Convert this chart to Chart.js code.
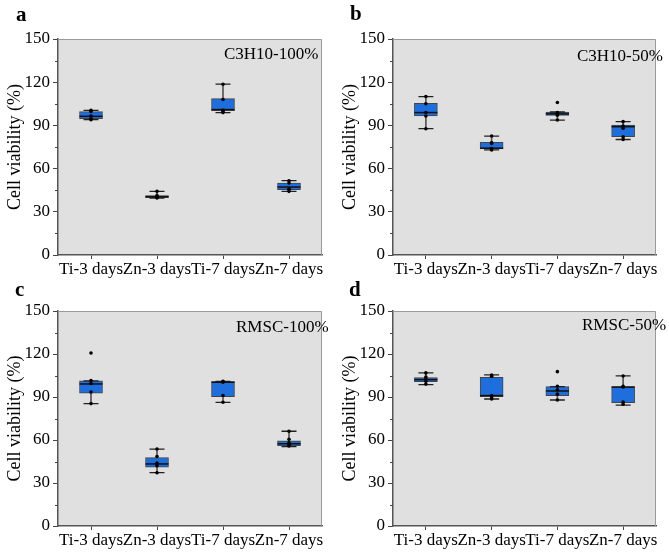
<!DOCTYPE html>
<html>
<head>
<meta charset="utf-8">
<script src="https://cdn.jsdelivr.net/npm/chart.js@4.4.0/dist/chart.umd.min.js"></script>
<style>
body{margin:0;background:#fff;}
#wrap{position:relative;width:669px;height:556px;}
canvas{position:absolute;}
</style>
</head>
<body>
<div id="wrap">
<canvas id="ca" width="335" height="278" style="left:0;top:0"></canvas>
<canvas id="cb" width="334" height="278" style="left:335px;top:0"></canvas>
<canvas id="cc" width="335" height="278" style="left:0;top:278px"></canvas>
<canvas id="cd" width="334" height="278" style="left:335px;top:278px"></canvas>
</div>
<script>
// categories and ticks
const categories = ['Ti-3 days', 'Zn-3 days', 'Ti-7 days', 'Zn-7 days'];
const yTicks = [0, 30, 60, 90, 120, 150];

// a - C3H10-100%
const lowA  = [94.0, 39.6, 98.9, 44.2];
const q1A   = [94.7, 39.8, 100.3, 45.4];
const medA  = [96.3, 40.5, 101.0, 47.2];
const q3A   = [99.6, 41.2, 108.6, 50.0];
const highA = [100.5, 44.2, 118.6, 51.6];
const ptsA  = [[100.5, 99.6, 96.5, 94.5, 94.0], [44.2, 41.2, 40.5, 40.0, 39.6], [118.6, 108.0, 100.5, 99.5, 98.9], [51.6, 50.0, 46.0, 45.4, 44.2]];

// b - C3H10-50%
const lowB  = [87.7, 73.0, 93.7, 80.2];
const q1B   = [96.5, 73.7, 97.0, 82.1];
const medB  = [98.9, 74.2, 98.0, 89.1];
const q3B   = [105.4, 78.2, 99.3, 90.2];
const highB = [110.0, 82.6, 99.3, 92.6];
const ptsB  = [[110.0, 105.0, 99.0, 96.5, 87.7], [82.6, 78.0, 77.5, 74.0, 73.0], [105.9, 99.0, 98.0, 97.0, 93.7], [92.6, 89.5, 88.0, 82.0, 80.2]];

// c - RMSC-100%
const lowC  = [85.4, 37.2, 86.3, 55.4];
const q1C   = [92.6, 41.0, 90.3, 56.0];
const medC  = [99.1, 43.3, 100.3, 57.4];
const q3C   = [101.2, 47.7, 100.8, 59.5];
const highC = [101.2, 53.7, 100.8, 66.1];
const ptsC  = [[120.7, 101.5, 99.5, 93.5, 85.4], [53.7, 48.5, 44.0, 42.0, 37.2], [101.0, 100.5, 100.5, 91.0, 86.3], [66.1, 60.5, 58.0, 57.0, 55.8]];

// d - RMSC-50%
const lowD  = [98.6, 88.6, 87.9, 84.4];
const q1D   = [100.7, 90.3, 90.9, 86.0];
const medD  = [102.1, 91.0, 94.2, 96.9];
const q3D   = [103.5, 103.8, 97.2, 97.2];
const highD = [106.8, 105.4, 97.2, 104.7];
const ptsD  = [[106.8, 104.0, 102.5, 101.0, 99.0], [105.4, 104.5, 91.0, 89.5, 88.6], [107.7, 97.5, 95.0, 92.0, 87.9], [104.7, 97.5, 97.0, 86.5, 85.0]];

const serif = "'Liberation Serif', 'Times New Roman', serif";

// grey plot area, top/right frame, minor ticks, panel letter and label
const panelDeco = {
    id: 'panelDeco',
    beforeDraw(chart) {
        const { ctx, chartArea: a } = chart;
        ctx.save();
        ctx.fillStyle = '#e0e0e0';
        ctx.fillRect(a.left, a.top, a.right - a.left, a.bottom - a.top);
        ctx.restore();
    },
    afterDraw(chart, args, opts) {
        const { ctx, chartArea: a, scales } = chart;
        ctx.save();
        ctx.strokeStyle = '#9a9a9a';
        ctx.lineWidth = 1;
        ctx.beginPath();
        ctx.moveTo(a.left, a.top + 0.5);
        ctx.lineTo(a.right - 0.5, a.top + 0.5);
        ctx.lineTo(a.right - 0.5, a.bottom);
        ctx.stroke();
        // minor ticks
        ctx.strokeStyle = '#444';
        ctx.beginPath();
        for (let i = 0; i < yTicks.length - 1; i++) {
            const y = Math.round(scales.y.getPixelForValue((yTicks[i] + yTicks[i + 1]) / 2)) + 0.5;
            ctx.moveTo(a.left - 3, y);
            ctx.lineTo(a.left, y);
        }
        ctx.stroke();
        ctx.fillStyle = '#000';
        ctx.textBaseline = 'middle';
        ctx.font = 'bold 21px ' + serif;
        ctx.fillText(opts.letter, opts.letterX, opts.letterY);
        ctx.font = '17px ' + serif;
        ctx.fillText(opts.label, opts.labelX, opts.labelY);
        ctx.restore();
    }
};

function makePanel(id, letter, label, low, q1, med, q3, high, pts, lay) {
    const pointSets = [];
    for (let i = 0; i < 5; i++) {
        pointSets.push({
            type: 'line',
            data: pts.map(p => p[i]),
            showLine: false,
            pointRadius: 1.8,
            pointBackgroundColor: '#000',
            pointBorderColor: '#000',
            pointBorderWidth: 0,
            order: 1
        });
    }
    new Chart(document.getElementById(id), {
        type: 'bar',
        data: {
            labels: categories,
            datasets: [
                {   // whisker line
                    data: low.map((v, i) => [v, high[i]]),
                    backgroundColor: '#555',
                    barThickness: 1,
                    grouped: false,
                    order: 6
                },
                {   // box
                    data: q1.map((v, i) => [v, q3[i]]),
                    backgroundColor: '#1e6fdd',
                    borderColor: '#444',
                    borderWidth: 1,
                    borderSkipped: false,
                    barThickness: 23,
                    grouped: false,
                    order: 5
                },
                {   // lower cap
                    type: 'line', data: low, showLine: false,
                    pointStyle: 'line', pointRadius: 7.5, pointBorderColor: '#222', pointBorderWidth: 1.3,
                    order: 3
                },
                {   // upper cap
                    type: 'line', data: high, showLine: false,
                    pointStyle: 'line', pointRadius: 7.5, pointBorderColor: '#222', pointBorderWidth: 1.3,
                    order: 3
                },
                {   // median
                    type: 'line', data: med, showLine: false,
                    pointStyle: 'line', pointRadius: 11.5, pointBorderColor: '#111', pointBorderWidth: 1.5,
                    order: 2
                },
                ...pointSets
            ]
        },
        options: {
            responsive: false,
            animation: false,
            events: [],
            layout: { padding: { top: lay.top, right: lay.right, bottom: lay.bottom, left: 0 } },
            plugins: {
                legend: { display: false },
                tooltip: { enabled: false },
                panelDeco: { letter, label, letterX: lay.letterX, letterY: lay.letterY, labelX: lay.labelX, labelY: lay.labelY }
            },
            scales: {
                x: {
                    ticks: { color: '#000', font: { family: serif, size: 17 }, maxRotation: 0, minRotation: 0, autoSkip: false, padding: 0 },
                    grid: { drawOnChartArea: false, offset: false, tickLength: 4, tickColor: '#444' },
                    border: { color: '#555', width: 1.5 },
                    afterFit: s => { s.height = 23; }
                },
                y: {
                    min: 0, max: 150,
                    afterBuildTicks: s => { s.ticks = yTicks.map(v => ({ value: v })); },
                    ticks: { color: '#000', font: { family: serif, size: 17 }, padding: 3 },
                    grid: { drawOnChartArea: false, tickLength: 5, tickColor: '#444' },
                    border: { color: '#555', width: 1.5 },
                    title: { display: true, text: 'Cell viability (%)', color: '#000', font: { family: serif, size: 18 }, padding: { top: 4, bottom: 0 } },
                    afterFit: s => { s.width = 58; }
                }
            }
        },
        plugins: [panelDeco]
    });
}

makePanel('ca', 'a', 'C3H10-100%', lowA, q1A, medA, q3A, highA, ptsA,
    { top: 39, right: 10, bottom: 0, letterX: 16, letterY: 16, labelX: 224, labelY: 55 });
makePanel('cb', 'b', 'C3H10-50%', lowB, q1B, medB, q3B, highB, ptsB,
    { top: 39, right: 9, bottom: 0, letterX: 15, letterY: 15, labelX: 242, labelY: 57 });
makePanel('cc', 'c', 'RMSC-100%', lowC, q1C, medC, q3C, highC, ptsC,
    { top: 33, right: 10, bottom: 7, letterX: 15, letterY: 13, labelX: 236, labelY: 50 });
makePanel('cd', 'd', 'RMSC-50%', lowD, q1D, medD, q3D, highD, ptsD,
    { top: 33, right: 9, bottom: 7, letterX: 14, letterY: 13, labelX: 247, labelY: 48 });
</script>
</body>
</html>
